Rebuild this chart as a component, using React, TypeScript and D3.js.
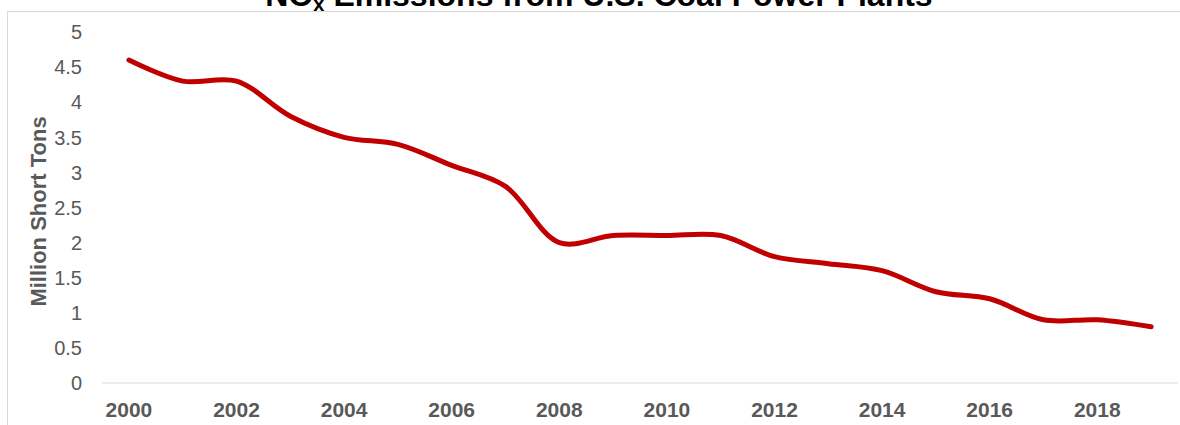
import React from "react";
import * as d3 from "d3";

const years = [2000, 2001, 2002, 2003, 2004, 2005, 2006, 2007, 2008, 2009, 2010, 2011, 2012, 2013, 2014, 2015, 2016, 2017, 2018, 2019];
const emissions = [4.6, 4.3, 4.3, 3.8, 3.5, 3.4, 3.1, 2.8, 2.0, 2.1, 2.1, 2.1, 1.8, 1.7, 1.6, 1.3, 1.2, 0.9, 0.9, 0.8];
const yTicks = [0, 0.5, 1, 1.5, 2, 2.5, 3, 3.5, 4, 4.5, 5];
const xLabelYears = [2000, 2002, 2004, 2006, 2008, 2010, 2012, 2014, 2016, 2018];

const W = 1180;
const H = 425;
const left = 102;
const right = 1178;
const top = 32;
const bottom = 383;

export default function App() {
  const x = d3.scaleBand<number>().domain(years).range([left, right]).paddingInner(0).paddingOuter(0);
  const y = d3.scaleLinear().domain([0, 5]).range([bottom, top]);
  const cx = (d: number) => (x(d) as number) + x.bandwidth() / 2;
  const line = d3
    .line<number>()
    .x((_, i) => cx(years[i]))
    .y((d) => y(d))
    .curve(d3.curveCatmullRom.alpha(0.5));
  const font = "Arial, 'Liberation Sans', sans-serif";
  return (
    <svg
      width={W}
      height={H}
      style={{ position: "absolute", left: 0, top: 0, display: "block", background: "#fff" }}
      fontFamily={font}
    >
      <rect x={7.5} y={11.5} width={W + 10} height={H + 10} fill="none" stroke="#d9d9d9" strokeWidth={1} />
      <text x={599} y={6} textAnchor="middle" fontSize={32} fontWeight="bold" fill="#000">
        NO<tspan fontSize={20} dy={5}>x</tspan>
        <tspan dy={-5}> Emissions from U.S. Coal Power Plants</tspan>
      </text>
      <line x1={left} x2={right} y1={bottom} y2={bottom} stroke="#d9d9d9" strokeWidth={1} />
      {yTicks.map((t) => (
        <text key={t} x={82} y={y(t)} dy="0.36em" textAnchor="end" fontSize={20} fill="#595959">
          {t}
        </text>
      ))}
      {xLabelYears.map((yr) => (
        <text key={yr} x={cx(yr)} y={417} textAnchor="middle" fontSize={21} fontWeight="bold" fill="#595959">
          {yr}
        </text>
      ))}
      <text
        transform={`translate(46,${(top + bottom) / 2 + 4}) rotate(-90)`}
        textAnchor="middle"
        fontSize={22}
        fontWeight="bold"
        fill="#595959"
      >
        Million Short Tons
      </text>
      <path d={line(emissions) || ""} fill="none" stroke="#C00000" strokeWidth={5} strokeLinecap="round" strokeLinejoin="round" />
    </svg>
  );
}
